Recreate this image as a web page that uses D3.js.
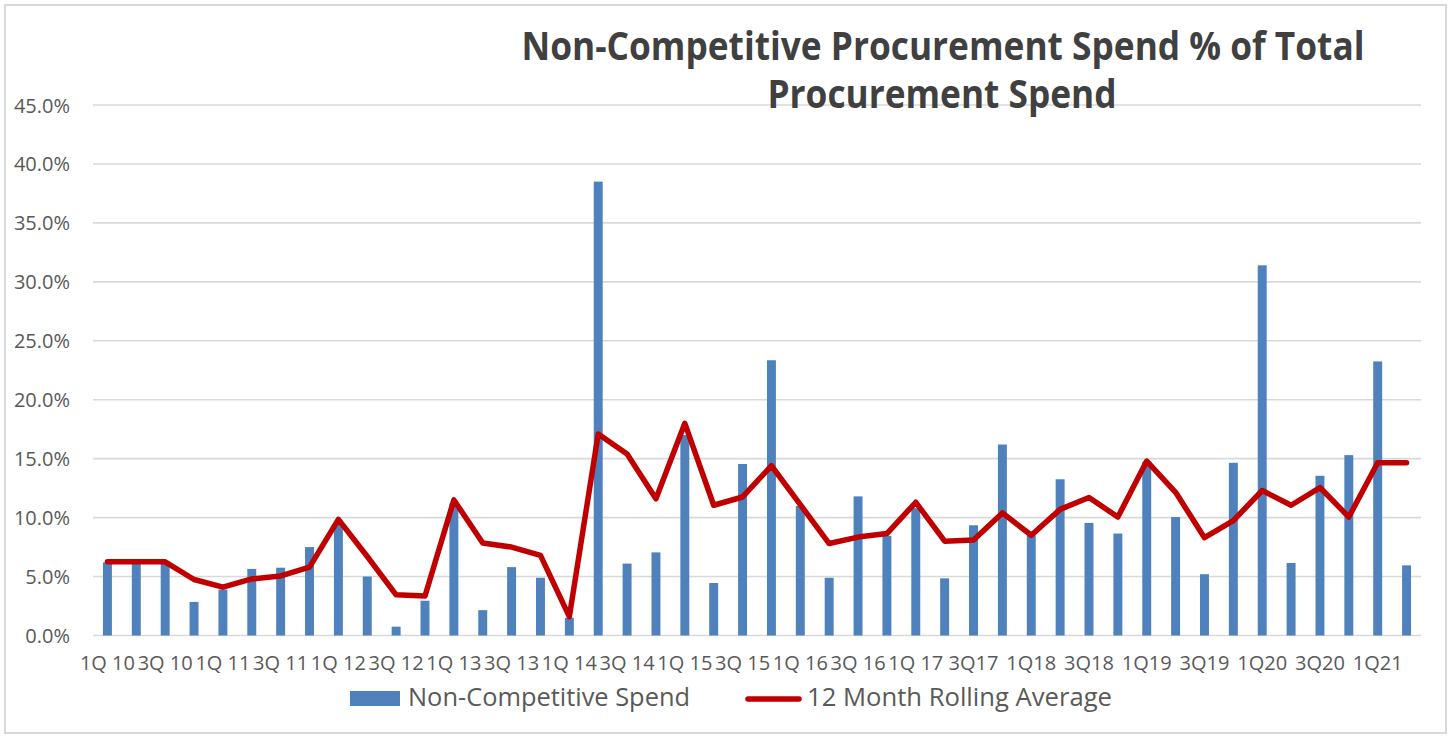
<html>
<head>
<meta charset="utf-8">
<script src="https://cdn.jsdelivr.net/npm/d3@7"></script>
<style>
body { margin: 0; background: #fff; }
text { font-family: "Open Sans", "Noto Sans", sans-serif; }
</style>
</head>
<body>
<svg width="1449" height="736"></svg>
<script>
// quarter labels (only the odd ones are printed on the axis)
const quarters = [
  "1Q 10","2Q 10","3Q 10","4Q 10","1Q 11","2Q 11","3Q 11","4Q 11",
  "1Q 12","2Q 12","3Q 12","4Q 12","1Q 13","2Q 13","3Q 13","4Q 13",
  "1Q 14","2Q 14","3Q 14","4Q 14","1Q 15","2Q 15","3Q 15","4Q 15",
  "1Q 16","2Q 16","3Q 16","4Q 16","1Q 17","2Q 17","3Q17","4Q17",
  "1Q18","2Q18","3Q18","4Q18","1Q19","2Q19","3Q19","4Q19",
  "1Q20","2Q20","3Q20","4Q20","1Q21","2Q21"
]

// Non-Competitive Spend (% of total)
const spend = [
  6.2, 6.2, 6.2, 2.85, 3.9, 5.65, 5.75, 7.5,
  9.5, 5.0, 0.75, 2.95, 11.2, 2.15, 5.8, 4.9,
  1.5, 38.5, 6.1, 7.05, 17.0, 4.45, 14.55, 23.35,
  11.0, 4.9, 11.8, 8.45, 10.8, 4.85, 9.35, 16.2,
  8.5, 13.25, 9.55, 8.65, 14.75, 10.05, 5.2, 14.65,
  31.4, 6.15, 13.55, 15.3, 23.25, 5.95
]

// 12 Month Rolling Average
const rolling = [
  6.25, 6.25, 6.25, 4.75, 4.1, 4.8, 5.05, 5.8,
  9.85, 6.7, 3.45, 3.35, 11.5, 7.85, 7.5, 6.8,
  1.6, 17.1, 15.4, 11.6, 18.0, 11.05, 11.75, 14.4,
  11.1, 7.8, 8.35, 8.65, 11.3, 8.0, 8.1, 10.4,
  8.5, 10.7, 11.7, 10.05, 14.8, 12.15, 8.3, 9.75,
  12.3, 11.05, 12.55, 10.05, 14.65, 14.65
]

const yTicks = [0, 5, 10, 15, 20, 25, 30, 35, 40, 45]

const svg = d3.select("svg")
const blue = "#4f81bd", red = "#c00000", grid = "#d9d9d9", txt = "#595959"

// outer chart border
svg.append("rect").attr("x", 5).attr("y", 5).attr("width", 1441).attr("height", 728)
  .attr("fill", "none").attr("stroke", grid).attr("stroke-width", 2)

const x = d3.scaleBand().domain(quarters).range([93, 1421]).paddingInner(0.69).paddingOuter(0.345)
const y = d3.scaleLinear().domain([0, 45]).range([635.5, 105])

// gridlines
svg.append("g")
  .selectAll("line").data(yTicks).enter().append("line")
  .attr("x1", 93).attr("x2", 1421)
  .attr("y1", d => y(d)).attr("y2", d => y(d))
  .attr("stroke", grid).attr("stroke-width", 1.6)

// y axis labels
const yAxis = d3.axisLeft(y).tickValues(yTicks).tickSize(0).tickPadding(0)
  .tickFormat(d => d.toFixed(1) + "%")
const gy = svg.append("g").attr("transform", "translate(70,0)").call(yAxis)
gy.select(".domain").remove()
gy.selectAll("text").attr("font-size", 20).attr("fill", txt)
  .attr("font-family", "'Open Sans', sans-serif").attr("dy", "0.35em")

// x axis labels
const xAxis = d3.axisBottom(x).tickValues(quarters.filter((q, i) => i % 2 === 0))
  .tickSize(0).tickPadding(0)
const gx = svg.append("g").attr("transform", "translate(0,652)").call(xAxis)
gx.select(".domain").remove()
gx.selectAll("text").attr("font-size", 20).attr("fill", txt)
  .attr("font-family", "'Open Sans', sans-serif").attr("dy", "0.9em")

// bars
svg.append("g")
  .selectAll("rect").data(spend).enter().append("rect")
  .attr("x", (d, i) => x(quarters[i]))
  .attr("width", x.bandwidth())
  .attr("y", d => y(d))
  .attr("height", d => y(0) - y(d))
  .attr("fill", blue)

// rolling average line
const line = d3.line()
  .x((d, i) => x(quarters[i]) + x.bandwidth() / 2)
  .y(d => y(d))
svg.append("path").datum(rolling)
  .attr("d", line)
  .attr("fill", "none").attr("stroke", red).attr("stroke-width", 5.5)
  .attr("stroke-linejoin", "round").attr("stroke-linecap", "round")

// title
const title = svg.append("g").attr("fill", "#404040").attr("font-weight", "bold")
  .attr("text-anchor", "middle").attr("font-size", 39)
title.append("text").attr("x", 943).attr("y", 60)
  .attr("textLength", 843).attr("lengthAdjust", "spacingAndGlyphs")
  .text("Non-Competitive Procurement Spend % of Total")
title.append("text").attr("x", 942).attr("y", 108)
  .attr("textLength", 349).attr("lengthAdjust", "spacingAndGlyphs")
  .text("Procurement Spend")

// legend
const legend = svg.append("g").attr("font-size", 25).attr("fill", txt)
legend.append("rect").attr("x", 350).attr("y", 691).attr("width", 50).attr("height", 15).attr("fill", blue)
legend.append("text").attr("x", 408).attr("y", 706)
  .attr("textLength", 282).attr("lengthAdjust", "spacingAndGlyphs")
  .text("Non-Competitive Spend")
legend.append("line").attr("x1", 748).attr("x2", 799).attr("y1", 699).attr("y2", 699)
  .attr("stroke", red).attr("stroke-width", 5.5).attr("stroke-linecap", "round")
legend.append("text").attr("x", 807).attr("y", 706)
  .attr("textLength", 305).attr("lengthAdjust", "spacingAndGlyphs")
  .text("12 Month Rolling Average")
</script>
</body>
</html>
